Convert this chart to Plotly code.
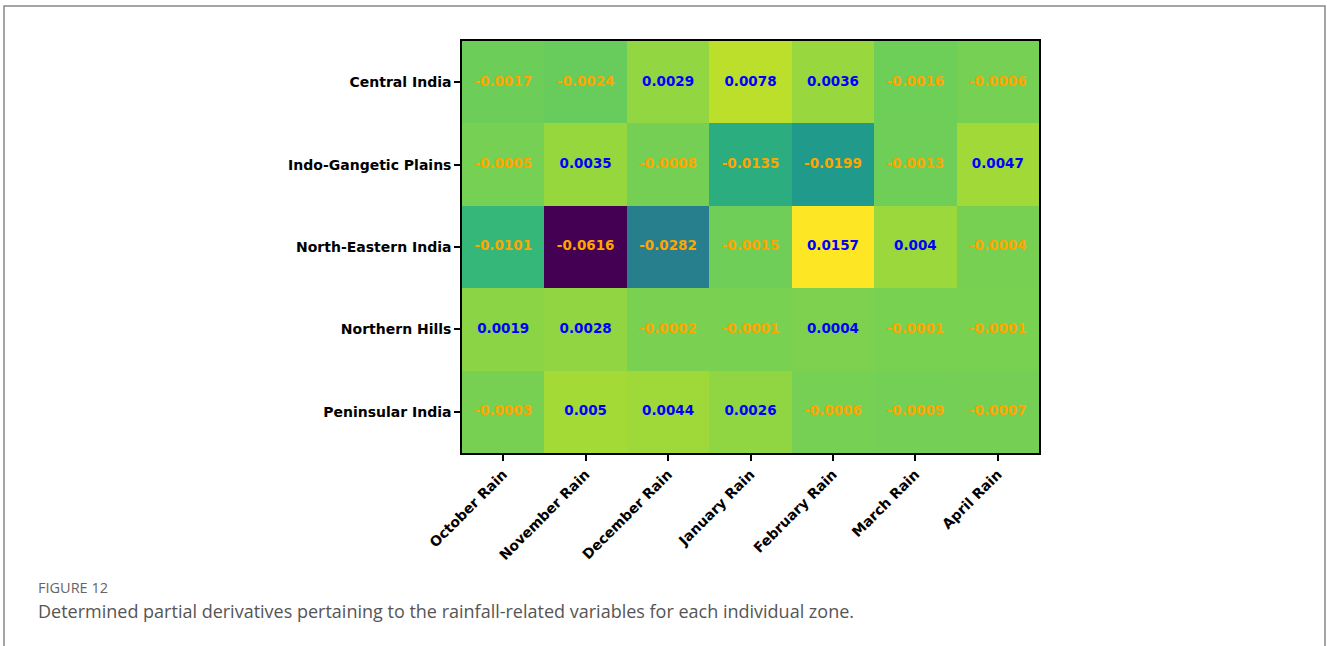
import plotly.graph_objects as go

zones = ["Central India", "Indo-Gangetic Plains", "North-Eastern India", "Northern Hills", "Peninsular India"]
months = ["October Rain", "November Rain", "December Rain", "January Rain", "February Rain", "March Rain", "April Rain"]

central_india = [-0.0017, -0.0024, 0.0029, 0.0078, 0.0036, -0.0016, -0.0006]
indo_gangetic = [-0.0005, 0.0035, -0.0008, -0.0135, -0.0199, -0.0013, 0.0047]
north_eastern = [-0.0101, -0.0616, -0.0282, -0.0015, 0.0157, 0.004, -0.0004]
northern_hills = [0.0019, 0.0028, -0.0002, -0.0001, 0.0004, -0.0001, -0.0001]
peninsular = [-0.0003, 0.005, 0.0044, 0.0026, -0.0006, -0.0009, -0.0007]

z = [central_india, indo_gangetic, north_eastern, northern_hills, peninsular]

W, H = 1327, 646
L, R, T, B = 462, 1039, 41, 453
pw, ph = R - L, B - T

fig = go.Figure()
fig.add_trace(go.Heatmap(
    z=z, x=months, y=zones, colorscale="Viridis", showscale=False,
    hoverinfo="skip", xgap=0, ygap=0,
))

tx, ty, tt, tc = [], [], [], []
for zi, row in zip(zones, z):
    for m, v in zip(months, row):
        tx.append(m); ty.append(zi); tt.append(str(v))
        tc.append("blue" if v > 0 else "orange")
fig.add_trace(go.Scatter(
    x=tx, y=ty, text=tt, mode="text",
    textfont=dict(family="DejaVu Sans", size=13.5, color=tc, weight="bold"),
    hoverinfo="skip", showlegend=False,
))

tickfont = dict(family="DejaVu Sans", size=14, color="black", weight="bold")
fig.update_xaxes(
    type="category", categoryorder="array", categoryarray=months,
    tickangle=-45, ticks="outside", ticklen=6, tickwidth=2, tickcolor="black",
    showline=True, linecolor="black", linewidth=1.5, mirror=True, showgrid=False,
    zeroline=False, tickfont=tickfont,
)
fig.update_yaxes(
    type="category", categoryorder="array", categoryarray=zones, autorange="reversed",
    ticks="outside", ticklen=6, tickwidth=2, tickcolor="black",
    showline=True, linecolor="black", linewidth=1.5, mirror=True, showgrid=False,
    zeroline=False, tickfont=tickfont,
)

fig.update_layout(
    width=W, height=H,
    margin=dict(l=L, r=W - R, t=T, b=H - B, pad=0),
    paper_bgcolor="white", plot_bgcolor="white",
    showlegend=False,
    shapes=[dict(
        type="rect", xref="paper", yref="paper",
        x0=(4 - L) / pw, x1=(1325 - L) / pw,
        y0=(B - 700) / ph, y1=(B - 6) / ph,
        line=dict(color="#888888", width=1.5), fillcolor="rgba(0,0,0,0)", layer="below",
    )],
    annotations=[
        dict(text="FIGURE 12", xref="paper", yref="paper",
             x=(36 - L) / pw, y=(B - 587) / ph, xanchor="left", yanchor="middle",
             showarrow=False, font=dict(family="Open Sans", size=14.5, color="#666666")),
        dict(text="Determined partial derivatives pertaining to the rainfall-related variables for each individual zone.",
             xref="paper", yref="paper",
             x=(36 - L) / pw, y=(B - 611) / ph, xanchor="left", yanchor="middle",
             showarrow=False, font=dict(family="Open Sans", size=18, color="#555555")),
    ],
)

fig.write_html("out.html", config={"displayModeBar": False},
               post_script="document.body.style.margin='0';document.body.style.overflow='hidden';")
